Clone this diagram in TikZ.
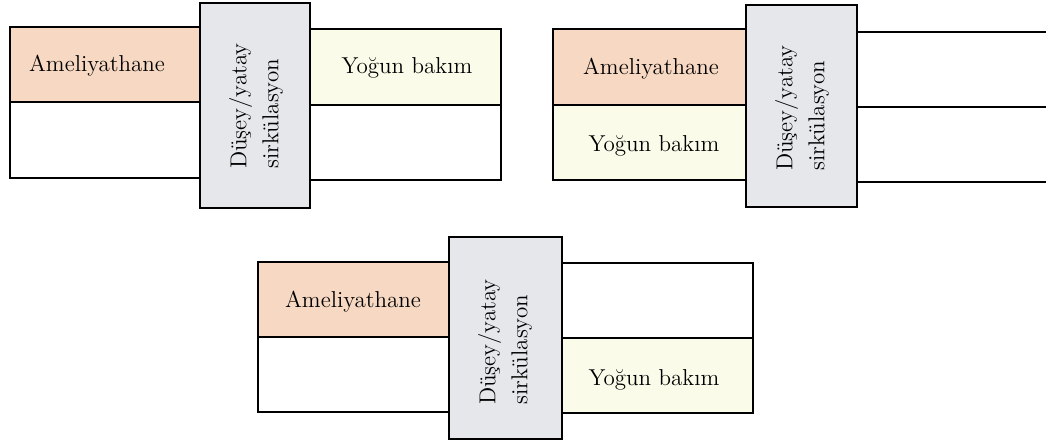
\documentclass[tikz,border=0pt]{standalone}
\usepackage{fontspec}
\definecolor{orroom}{HTML}{F7D8C2}
\definecolor{crroom}{HTML}{FBFBEA}
\definecolor{corefill}{HTML}{E5E7EA}
\begin{document}
\begin{tikzpicture}[x=0.5pt,y=-0.5pt,line width=0.9pt,
  room/.style={draw=black,line join=miter},
  core/.style={draw=black,fill=corefill,line join=miter},
  label/.style={font=\fontsize{11.5}{14}\selectfont,inner sep=0pt},
  vlabel/.style={font=\fontsize{11.5}{16}\selectfont,rotate=90,align=left,inner sep=0pt}]
\useasboundingbox (0,0) rectangle (1046,445);

% --- layout 1: surgery and ICU on the same floor, opposite sides of the core
\draw[room,fill=orroom] (10,27) rectangle (200,102);
\draw[room] (10,102) rectangle (200,178);
\draw[room,fill=crroom] (310,29) rectangle (501,105);
\draw[room] (310,105) rectangle (501,180);
\draw[core] (200,3) rectangle (310,208);
\node[label] (a1) at (97,66) {Ameliyathane};
\node[label] (y1) at (407,68) {Yoğun bakım};
\node[vlabel] (c1) at (256,106) {Düşey/yatay\\sirkülasyon};

% --- layout 2: surgery and ICU stacked on the same side
\draw[room,fill=orroom] (553,29) rectangle (747,105);
\draw[room,fill=crroom] (553,105) rectangle (747,180);
\coordinate (r2a) at (1046,32);
\coordinate (r2b) at (1046,107);
\coordinate (r2c) at (1046,182);
\draw[room] (857,32) -- (r2a);
\draw[room] (857,107) -- (r2b);
\draw[room] (857,182) -- (r2c);
\draw[core] (746,5) rectangle (857,207);
\node[label] (a2) at (651,69) {Ameliyathane};
\node[label] (y2) at (654,146) {Yoğun bakım};
\node[vlabel] (c2) at (802,108) {Düşey/yatay\\sirkülasyon};

% --- layout 3: surgery and ICU diagonally across the core
\draw[room,fill=orroom] (258,262) rectangle (450,337);
\draw[room] (258,337) rectangle (450,412);
\draw[room] (562,263) rectangle (753,338);
\draw[room,fill=crroom] (562,338) rectangle (753,413);
\draw[core] (449,237) rectangle (562,439);
\node[label] (a3) at (353,302) {Ameliyathane};
\node[label] (y3) at (654,380) {Yoğun bakım};
\node[vlabel] (c3) at (505,342) {Düşey/yatay\\sirkülasyon};
\end{tikzpicture}
\end{document}
